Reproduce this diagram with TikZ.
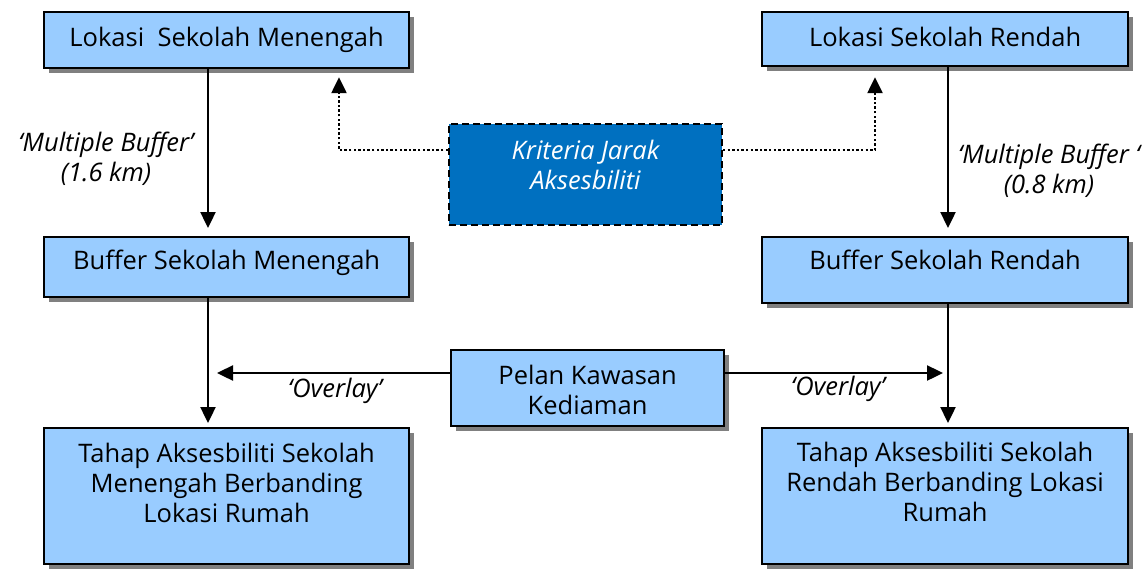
\documentclass[tikz,border=0pt]{standalone}
\usepackage{fontspec}
\setmainfont{Open Sans}
\usetikzlibrary{arrows.meta,shadows}
\definecolor{boxblue}{HTML}{99CCFF}
\definecolor{critblue}{HTML}{0070C0}
\definecolor{shadowgray}{HTML}{808080}
\begin{document}
\begin{tikzpicture}[
    x=1pt, y=-1pt,
    every node/.style={font=\fontsize{25.5}{30}\selectfont, inner sep=0pt},
    box/.style={draw, line width=2.2pt, fill=boxblue, anchor=north west, align=center,
        drop shadow={shadow xshift=5pt, shadow yshift=-5pt, fill=shadowgray, opacity=1}},
    critbox/.style={draw, line width=2pt, dash pattern=on 7pt off 4pt, fill=critblue,
        text=white, anchor=north west, align=center, font=\fontsize{25.5}{30}\selectfont\itshape},
    arrow/.style={line width=2.4pt, -{Triangle[length=16pt,width=15pt]}},
    dotarrow/.style={arrow, dash pattern=on 2.4pt off 2.2pt},
    lbl/.style={font=\fontsize{25.5}{30}\selectfont\itshape, align=center}
]
\useasboundingbox (0,0) rectangle (1143,568);

\node[box, minimum width=365pt, minimum height=56pt, text height=34pt, text depth=22pt]
    (lokm) at (43,11) {Lokasi~ Sekolah Menengah};
\node[box, minimum width=366pt, minimum height=54pt, text height=34pt, text depth=20pt]
    (lokr) at (761,11) {Lokasi Sekolah Rendah};
\node[box, minimum width=365pt, minimum height=60pt, text height=32pt, text depth=28pt]
    (bufm) at (43,236) {Buffer Sekolah Menengah};
\node[box, minimum width=366pt, minimum height=66pt, text height=32pt, text depth=34pt]
    (bufr) at (761,236) {Buffer Sekolah Rendah};
\node[box, minimum width=365pt, minimum height=136pt, text height=94pt, text depth=42pt]
    (tahm) at (43,427) {Tahap Aksesbiliti Sekolah\\Menengah Berbanding\\Lokasi Rumah};
\node[box, minimum width=366pt, minimum height=136pt, text height=93pt, text depth=43pt]
    (tahr) at (761,427) {Tahap Aksesbiliti Sekolah\\Rendah Berbanding Lokasi\\Rumah};
\node[critbox, minimum width=273pt, minimum height=101pt, text height=65pt, text depth=36pt]
    (krit) at (448,123) {Kriteria Jarak\\Aksesbiliti};
\node[box, minimum width=273pt, minimum height=76pt, text height=64pt, text depth=12pt]
    (pelan) at (450,349) {Pelan Kawasan\\Kediaman};

\coordinate (colL) at (208,0);
\coordinate (colR) at (948,0);
\coordinate (colKL) at (339,0);
\coordinate (colKR) at (875,0);
\coordinate (rowK) at (0,150);
\coordinate (rowO) at (0,373);

\draw[arrow, shorten >=8pt] (lokm.south -| colL) -- (bufm.north -| colL);
\draw[arrow, shorten >=4pt] (bufm.south -| colL) -- (tahm.north -| colL);
\draw[arrow, shorten >=8pt] (lokr.south -| colR) -- (bufr.north -| colR);
\draw[arrow, shorten >=4pt] (bufr.south -| colR) -- (tahr.north -| colR);
\draw[arrow, shorten >=9pt] (pelan.west |- rowO) -- (colL |- rowO);
\draw[arrow, shorten >=5pt] (pelan.east |- rowO) -- (colR |- rowO);
\draw[dotarrow, shorten >=8pt] (krit.west |- rowK) -| (lokm.south -| colKL);
\draw[dotarrow, shorten >=10pt] (krit.east |- rowK) -| (lokr.south -| colKR);

\node[lbl] (bufmlbl) at (106,158.5) {‘Multiple Buffer’\\(1.6 km)};
\node[lbl] (bufrlbl) at (1049,170.5) {‘Multiple Buffer ‘\\(0.8 km)};
\node[lbl, anchor=base] (ovlL) at (335,397) {‘Overlay’};
\node[lbl, anchor=base] (ovlR) at (838,395) {‘Overlay’};
\end{tikzpicture}
\end{document}
